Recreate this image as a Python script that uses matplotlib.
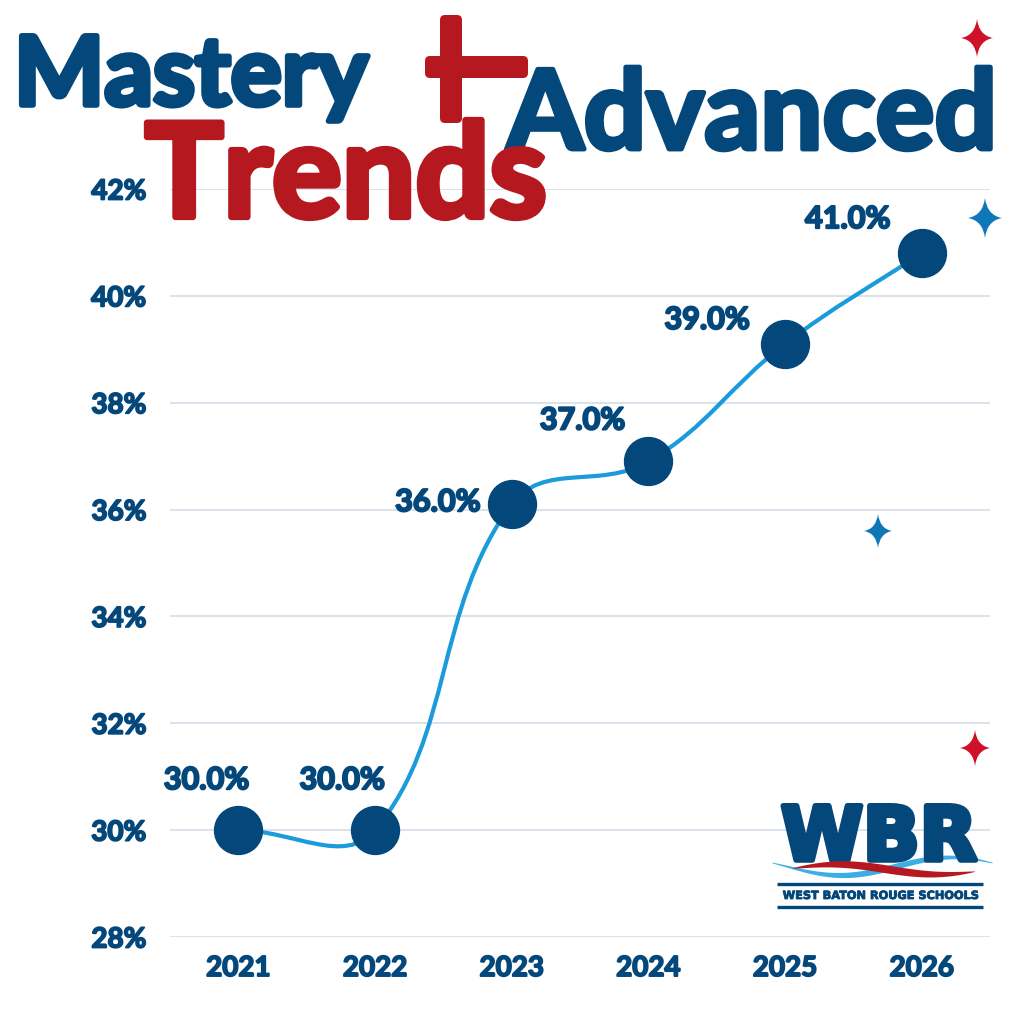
import numpy as np
import matplotlib
matplotlib.use("Agg")
import matplotlib.pyplot as plt
import matplotlib.patheffects as pe
from matplotlib.path import Path
from matplotlib.patches import PathPatch, FancyBboxPatch

years = ["2021", "2022", "2023", "2024", "2025", "2026"]
values = [30.0, 30.0, 36.1, 36.9, 39.1, 40.8]
value_labels = ["30.0%", "30.0%", "36.0%", "37.0%", "39.0%", "41.0%"]
y_ticks = [28, 30, 32, 34, 36, 38, 40, 42]

NAVY = "#04477b"
RED = "#b5181f"
LINE = "#1b9bdb"
GRID = "#d3dee9"
FONT = "Lato"


def heavy(color, w):
    return [pe.withStroke(linewidth=w, foreground=color)]


fig = plt.figure(figsize=(10.24, 10.24), dpi=100)
fig.patch.set_facecolor("white")

# main chart (pixel box: x 170..990, y 189..937)
ax = fig.add_axes([170 / 1024, 87 / 1024, 820 / 1024, 748 / 1024])
ax.set_xlim(-0.5, len(years) - 0.5)
ax.set_ylim(28, 42)
for s in ax.spines.values():
    s.set_visible(False)
ax.set_yticks(y_ticks)
ax.set_yticklabels([f"{t}%" for t in y_ticks])
ax.set_xticks(range(len(years)))
ax.set_xticklabels(years)
ax.tick_params(length=0, labelsize=20, labelcolor=NAVY)
ax.tick_params(axis="y", pad=17)
ax.tick_params(axis="x", pad=13)
for lab in ax.get_xticklabels() + ax.get_yticklabels():
    lab.set_fontfamily(FONT)
    lab.set_fontweight("bold")
    lab.set_path_effects(heavy(NAVY, 1.3))
ax.grid(axis="y", color=GRID, lw=1.2)
ax.set_axisbelow(True)

# chart.js style bezier (tension 0.4) in pixel space
xs = np.arange(len(values))
pts = ax.transData.transform(np.column_stack([xs, values]))
t = 0.4
verts = [pts[0]]
codes = [Path.MOVETO]
cps = []
for i in range(len(pts)):
    p0 = pts[i - 1] if i > 0 else pts[i]
    p1 = pts[i]
    p2 = pts[i + 1] if i < len(pts) - 1 else pts[i]
    d01 = np.hypot(*(p1 - p0))
    d12 = np.hypot(*(p1 - p2))
    s01 = d01 / (d01 + d12) if d01 + d12 else 0
    s12 = d12 / (d01 + d12) if d01 + d12 else 0
    fa, fb = t * s01, t * s12
    cps.append((p1 - fa * (p2 - p0), p1 + fb * (p2 - p0)))
for i in range(len(pts) - 1):
    verts += [cps[i][1], cps[i + 1][0], pts[i + 1]]
    codes += [Path.CURVE4] * 3
inv = ax.transData.inverted()
path = Path(inv.transform(np.array(verts)), codes)
ax.add_patch(PathPatch(path, fill=False, ec=LINE, lw=3, zorder=3, clip_on=False))
ax.plot(xs, values, "o", ms=34.5, color=NAVY, zorder=4, clip_on=False)

label_offsets = [(-32, 50), (-33, 50), (-74, 2), (-66, 41), (-78, 24), (-74, 34)]
for x, v, lab, off in zip(xs, values, value_labels, label_offsets):
    ax.annotate(lab, (x, v), xytext=off, textcoords="offset pixels",
                ha="center", va="center", fontsize=22, color=NAVY,
                fontfamily=FONT, fontweight="bold", zorder=5,
                path_effects=heavy(NAVY, 1.5))

# overlay in pixel coordinates for title, stars and logo
ov = fig.add_axes([0, 0, 1, 1], zorder=10)
ov.set_xlim(0, 1024)
ov.set_ylim(1024, 0)
ov.axis("off")


def fit(txt, width):
    fig.canvas.draw()
    bb = txt.get_window_extent()
    txt.set_fontsize(txt.get_fontsize() * width / bb.width)


t1 = ov.text(14, 105, "Mastery", color=NAVY, fontsize=72, fontfamily=FONT,
             fontweight="bold", va="baseline", ha="left",
             path_effects=heavy(NAVY, 4))
fit(t1, 354)
t2 = ov.text(507, 149, "Advanced", color=NAVY, fontsize=83, fontfamily=FONT,
             fontweight="bold", va="baseline", ha="left",
             path_effects=heavy(NAVY, 3.5))
fit(t2, 490)
t3 = ov.text(145, 217, "Trends", color=RED, fontsize=90, fontfamily=FONT,
             fontweight="bold", va="baseline", ha="left",
             path_effects=heavy(RED, 4.5))
fit(t3, 402)

# the red plus
ov.add_patch(FancyBboxPatch((440, 15), 22, 108, boxstyle="round,pad=0,rounding_size=5",
                            fc=RED, ec="none"))
ov.add_patch(FancyBboxPatch((425, 56), 103, 22, boxstyle="round,pad=0,rounding_size=5",
                            fc=RED, ec="none"))


def star(cx, cy, rx, ry, color):
    k = 0.13
    v = [(cx, cy - ry), (cx + k * rx, cy - k * ry), (cx + rx, cy),
         (cx + k * rx, cy + k * ry), (cx, cy + ry),
         (cx - k * rx, cy + k * ry), (cx - rx, cy),
         (cx - k * rx, cy - k * ry), (cx, cy - ry)]
    c = [Path.MOVETO] + [Path.CURVE3, Path.CURVE3] * 4
    ov.add_patch(PathPatch(Path(v, c), fc=color, ec="none"))


star(977, 38, 16, 19, "#cf1027")
star(985, 218, 17, 20, "#0d77b8")
star(878, 531, 14, 17, "#0d77b8")
star(975, 748, 15, 18, "#cf1027")

# WBR logo
w = ov.text(879, 860, "WBR", color=NAVY, fontsize=60, fontfamily="DejaVu Sans",
            fontweight="bold", va="baseline", ha="center",
            path_effects=heavy(NAVY, 4))
fit(w, 196)
wx = np.linspace(772, 992, 200)
u = (wx - 772) / 220
env = np.sin(np.pi * u)
blue_mid = 866 + 9 * np.sin(2 * np.pi * u - 0.4)
ov.fill_between(wx, blue_mid - 2.6 * env - 0.4, blue_mid + 2.6 * env + 0.4,
                color="#3aaee6", lw=0, zorder=2)
rx_ = np.linspace(792, 975, 200)
ru = (rx_ - 792) / 183
renv = np.sin(np.pi * ru) ** 0.7
red_mid = 869 - 5 * np.sin(2 * np.pi * ru * 0.9 + 0.2)
ov.fill_between(rx_, red_mid - 4 * renv, red_mid + 4 * renv,
                color=RED, lw=0, zorder=3)
ov.plot([777, 983], [884, 884], color=NAVY, lw=2.4, solid_capstyle="butt")
ov.plot([777, 983], [907, 907], color=NAVY, lw=2.4, solid_capstyle="butt")
s = ov.text(880, 896, "WEST BATON ROUGE SCHOOLS", color=NAVY, fontsize=8,
            fontfamily="DejaVu Sans", fontweight="bold", va="center", ha="center",
            path_effects=heavy(NAVY, 0.6))
fit(s, 196)

fig.savefig("out.png", dpi=100, facecolor="white")
